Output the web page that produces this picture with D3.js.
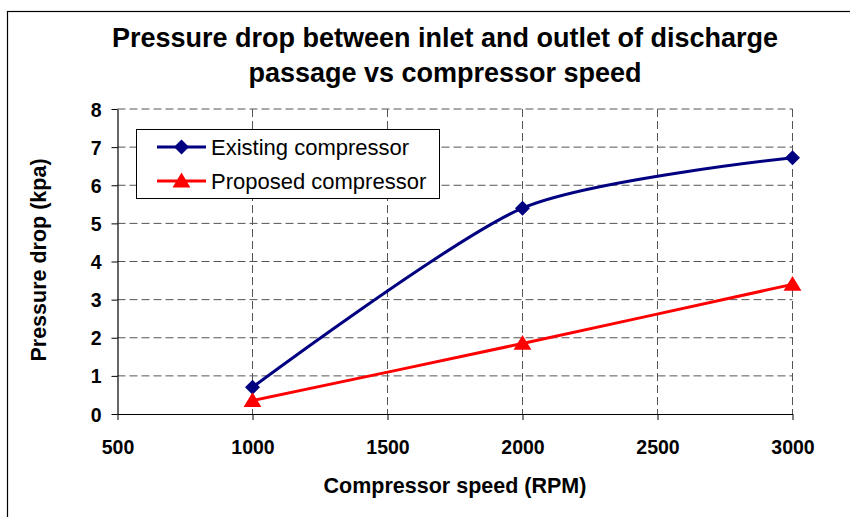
<!DOCTYPE html>
<html>
<head>
<meta charset="utf-8">
<script src="https://cdn.jsdelivr.net/npm/d3@7"></script>
<style>
  html, body { margin: 0; padding: 0; background: #fff; }
  svg { display: block; font-family: "Liberation Sans", Arial, sans-serif; }
</style>
</head>
<body>
<svg id="chart" width="850" height="517"></svg>
<script>
const speeds = [1000, 2000, 3000];
const existing = [0.7, 5.4, 6.72];
const proposed = [0.35, 1.85, 3.4];
const xTicks = [500, 1000, 1500, 2000, 2500, 3000];
const yTicks = [0, 1, 2, 3, 4, 5, 6, 7, 8];
const seriesNames = ["Existing compressor", "Proposed compressor"];
const titleLines = ["Pressure drop between inlet and outlet of discharge", "passage vs compressor speed"];

(function () {
const svg = d3.select("#chart");
const pLeft = 117.5, pRight = 792.5, pTop = 109, pBottom = 414;

// chart border (only left/top visible)
svg.append("rect").attr("x", 7.5).attr("y", 11.5).attr("width", 900).attr("height", 600)
  .attr("fill", "none").attr("stroke", "#000").attr("stroke-width", 1.2);

const x = d3.scaleLinear().domain([500, 3000]).range([pLeft, pRight]);
const y = d3.scaleLinear().domain([0, 8]).range([pBottom, pTop]);

// gridlines
const grid = svg.append("g");
grid.selectAll("line.h").data(yTicks.filter(d => d > 0)).join("line")
  .attr("x1", pLeft).attr("x2", pRight)
  .attr("y1", d => y(d)).attr("y2", d => y(d))
  .attr("stroke", "#555").attr("stroke-width", 1).attr("stroke-dasharray", "8,4");
grid.selectAll("line.v").data(xTicks.filter(d => d > 500)).join("line")
  .attr("y1", pTop).attr("y2", pBottom)
  .attr("x1", d => x(d)).attr("x2", d => x(d))
  .attr("stroke", "#555").attr("stroke-width", 1).attr("stroke-dasharray", "8,4");

// axes
const fmt = d3.format("d");
const xAxis = svg.append("g").attr("transform", `translate(0,${pBottom})`)
  .call(d3.axisBottom(x).tickValues(xTicks).tickFormat(fmt).tickSize(6).tickPadding(20).tickSizeOuter(0));
const yAxis = svg.append("g").attr("transform", `translate(${pLeft},0)`)
  .call(d3.axisLeft(y).tickValues(yTicks).tickFormat(fmt).tickSize(6).tickPadding(10).tickSizeOuter(0));
[xAxis, yAxis].forEach(a => {
  a.select(".domain").attr("stroke", "#000").attr("stroke-width", 1.2);
  a.selectAll(".tick line").attr("stroke", "#000");
  a.selectAll(".tick text").attr("font-family", "Liberation Sans, Arial, sans-serif")
    .attr("font-size", 19.5).attr("font-weight", "bold").attr("fill", "#000");
});
yAxis.selectAll(".tick text").attr("dy", "0.36em");

// lines
const line = d3.line().x((d, i) => x(speeds[i])).y(d => y(d)).curve(d3.curveCardinal.tension(0.25));
svg.append("path").datum(existing).attr("d", line).attr("fill", "none")
  .attr("stroke", "#000080").attr("stroke-width", 3);
svg.append("path").datum(proposed).attr("d", line).attr("fill", "none")
  .attr("stroke", "#ff0000").attr("stroke-width", 3);

function diamondPath(cx, cy, r) { return `M${cx},${cy-r}L${cx+r},${cy}L${cx},${cy+r}L${cx-r},${cy}Z`; }
function triPath(cx, cy, r) { return `M${cx},${cy-r}L${cx+r*1.05},${cy+r*0.75}L${cx-r*1.05},${cy+r*0.75}Z`; }

svg.append("g").selectAll("path").data(existing).join("path")
  .attr("d", (d, i) => diamondPath(x(speeds[i]), y(d), 7.5)).attr("fill", "#000080");
svg.append("g").selectAll("path").data(proposed).join("path")
  .attr("d", (d, i) => triPath(x(speeds[i]), y(d), 8.5)).attr("fill", "#ff0000");

// title
svg.append("g").selectAll("text").data(titleLines).join("text")
  .attr("x", 445).attr("y", (d, i) => 47 + i * 35)
  .attr("text-anchor", "middle").attr("font-size", 27).attr("font-weight", "bold")
  .attr("fill", "#000").text(d => d);

// axis titles
svg.append("text").attr("x", 455).attr("y", 493).attr("text-anchor", "middle")
  .attr("font-size", 21.5).attr("font-weight", "bold").text("Compressor speed (RPM)");
svg.append("text").attr("transform", "translate(46,260) rotate(-90)").attr("text-anchor", "middle")
  .attr("font-size", 21.5).attr("font-weight", "bold").text("Pressure drop (kpa)");

// legend
const lg = svg.append("g");
lg.append("rect").attr("x", 136.5).attr("y", 129.5).attr("width", 303).attr("height", 69)
  .attr("fill", "#fff").attr("stroke", "#000").attr("stroke-width", 1);
const colors = ["#000080", "#ff0000"];
seriesNames.forEach((name, i) => {
  const cy = 147 + i * 34;
  lg.append("line").attr("x1", 157).attr("x2", 206).attr("y1", cy).attr("y2", cy)
    .attr("stroke", colors[i]).attr("stroke-width", 3);
  lg.append("path").attr("d", i === 0 ? diamondPath(181.5, cy, 7.5) : triPath(181.5, cy, 8.5))
    .attr("fill", colors[i]);
  lg.append("text").attr("x", 211).attr("y", cy).attr("dy", "0.36em")
    .attr("font-size", 22).attr("fill", "#000").text(name);
});
})();
</script>
</body>
</html>
